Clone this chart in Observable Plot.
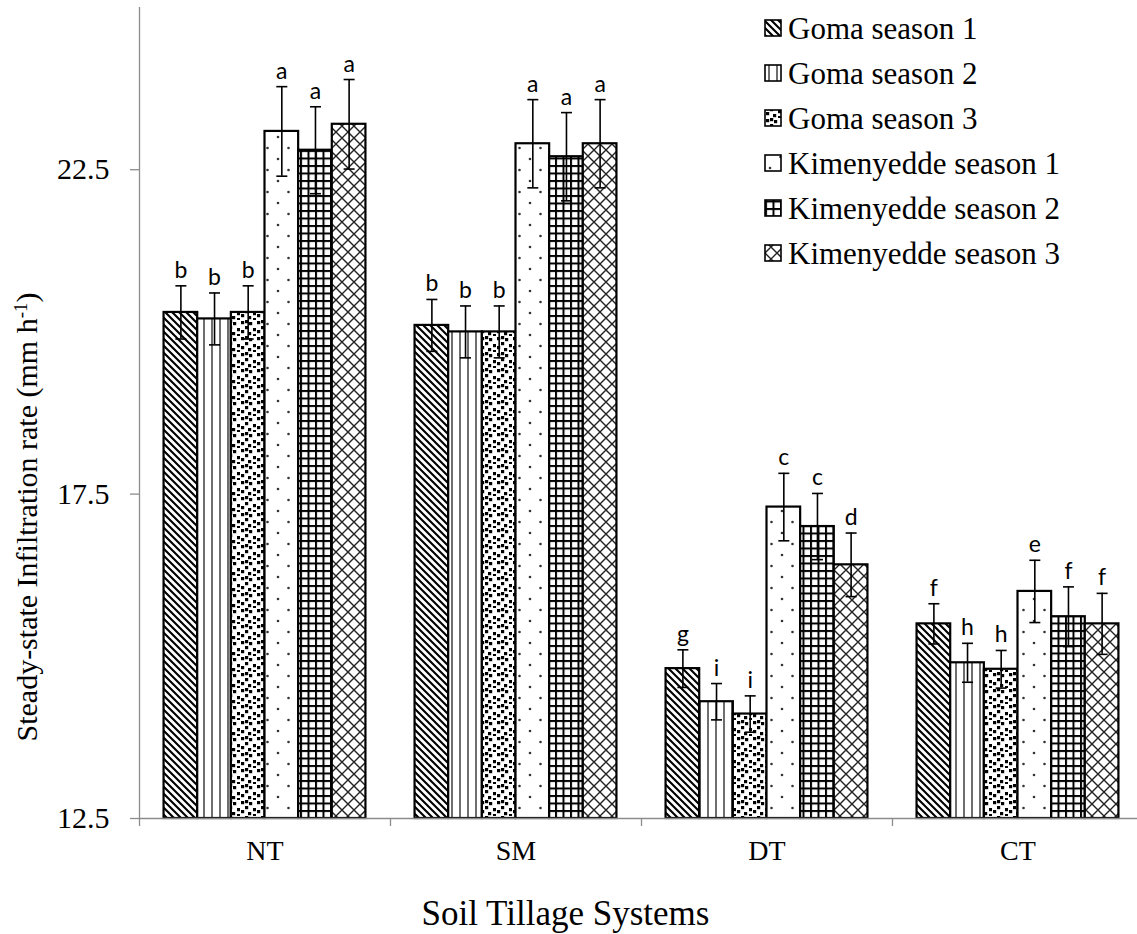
<!DOCTYPE html>
<html>
<head>
<meta charset="utf-8">
<script src="https://cdn.jsdelivr.net/npm/d3@7"></script>
<script src="https://cdn.jsdelivr.net/npm/@observablehq/plot@0.6"></script>
<style>
  body { margin: 0; background: #fff; }
  svg { display: block; }
</style>
</head>
<body>
<div id="chart"></div>
<script>
// Tillage systems along the x axis
const systems = ["NT", "SM", "DT", "CT"];

// Site × season series
const series = [
  "Goma season 1", "Goma season 2", "Goma season 3",
  "Kimenyedde season 1", "Kimenyedde season 2", "Kimenyedde season 3"
];

// Mean steady-state infiltration rate (mm h-1), one value per tillage system
const gomaS1 = [20.30, 20.10, 14.81, 15.50];
const gomaS2 = [20.20, 20.00, 14.30, 14.90];
const gomaS3 = [20.30, 20.00, 14.11, 14.80];
const kimS1  = [23.09, 22.90, 17.30, 16.00];
const kimS2  = [22.80, 22.70, 17.00, 15.61];
const kimS3  = [23.20, 22.90, 16.41, 15.50];

// Standard errors
const gomaS1Err = [0.41, 0.40, 0.29, 0.31];
const gomaS2Err = [0.40, 0.40, 0.28, 0.30];
const gomaS3Err = [0.41, 0.40, 0.28, 0.29];
const kimS1Err  = [0.69, 0.68, 0.52, 0.48];
const kimS2Err  = [0.67, 0.68, 0.51, 0.46];
const kimS3Err  = [0.69, 0.68, 0.49, 0.47];

// Mean separation letters
const gomaS1Sig = ["b", "b", "g", "f"];
const gomaS2Sig = ["b", "b", "i", "h"];
const gomaS3Sig = ["b", "b", "i", "h"];
const kimS1Sig  = ["a", "a", "c", "e"];
const kimS2Sig  = ["a", "a", "c", "f"];
const kimS3Sig  = ["a", "a", "d", "f"];

// Y axis
const yTicks = [12.5, 17.5, 22.5];
const yDomain = [12.5, 25];

const values  = [gomaS1, gomaS2, gomaS3, kimS1, kimS2, kimS3];
const errors  = [gomaS1Err, gomaS2Err, gomaS3Err, kimS1Err, kimS2Err, kimS3Err];
const letters = [gomaS1Sig, gomaS2Sig, gomaS3Sig, kimS1Sig, kimS2Sig, kimS3Sig];

// Position of each series bar inside a tillage-system slot (slot = 1 unit of x)
const slot = d3.scaleBand().domain(series).range([0, 1]).paddingInner(0).paddingOuter(0.73);

const rows = [];
systems.forEach((sys, i) => {
  series.forEach((s, j) => {
    const x1 = i + slot(s);
    const x2 = x1 + slot.bandwidth();
    rows.push({
      system: sys, series: s,
      value: values[j][i], err: errors[j][i], letter: letters[j][i],
      x1, x2, xc: (x1 + x2) / 2
    });
  });
});

// Horizontal cap for the error bars
const capSymbol = {
  draw(context, size) {
    const r = Math.sqrt(size / Math.PI);
    context.moveTo(-r, 0);
    context.lineTo(r, 0);
  }
};

const axisGray = "#8c8c8c";
const serif = "'Liberation Serif', 'Times New Roman', serif";

const chart = Plot.plot({
  width: 1137,
  height: 934,
  marginLeft: 139,
  marginRight: -6,
  marginTop: 7,
  marginBottom: 116,
  x: { domain: [0, systems.length], axis: null },
  y: { domain: yDomain, axis: null },
  color: { domain: series, range: series.map((_, j) => `url(#fill-${j})`) },
  style: { fontFamily: serif, background: "#fff", color: "#000", overflow: "visible" },
  marks: [
    Plot.rectY(rows, {
      x1: "x1", x2: "x2", y1: yDomain[0], y2: "value",
      fill: "series", stroke: "#000", strokeWidth: 2.2
    }),
    Plot.ruleX(rows, {
      x: "xc", y1: d => d.value - d.err, y2: d => d.value + d.err,
      stroke: "#000", strokeWidth: 1.6
    }),
    Plot.dot(rows, {
      x: "xc", y: d => d.value - d.err, symbol: capSymbol, r: 5.5,
      fill: "none", stroke: "#000", strokeWidth: 1.6
    }),
    Plot.dot(rows, {
      x: "xc", y: d => d.value + d.err, symbol: capSymbol, r: 5.5,
      fill: "none", stroke: "#000", strokeWidth: 1.6
    }),
    Plot.text(rows, {
      x: "xc", y: d => d.value + d.err, text: "letter",
      lineAnchor: "bottom", dy: -8,
      fontFamily: "Lato, 'Open Sans', sans-serif", fontSize: 23, fill: "#000"
    }),
    // axis lines
    Plot.ruleY([yDomain[0]], { stroke: axisGray, strokeWidth: 1.3 }),
    Plot.ruleX([0], { y1: yDomain[0], y2: yDomain[1], stroke: axisGray, strokeWidth: 1.3 }),
    Plot.axisY({
      ticks: yTicks, tickSize: 9, tickPadding: 21, tickFormat: d3.format(".1f"),
      fontSize: 30, stroke: axisGray, strokeWidth: 1.3, label: null
    }),
    // slot boundary ticks
    Plot.axisX({
      ticks: d3.range(0, systems.length + 1), tickSize: 8, tickFormat: () => "",
      stroke: axisGray, strokeWidth: 1.3, label: null
    }),
    // system names centred in each slot
    Plot.axisX({
      ticks: systems.map((_, i) => i + 0.5), tickSize: 0, tickPadding: 22,
      tickFormat: d => systems[Math.floor(d)], fontSize: 28, label: null
    }),
    // x axis title
    Plot.text(["Soil Tillage Systems"], {
      frameAnchor: "bottom", lineAnchor: "middle", dx: -76, dy: 95, fontSize: 35, fill: "#000"
    })
  ]
});

document.getElementById("chart").append(chart);

const svg = d3.select(chart);

// Hatch patterns for the six series
const defs = svg.insert("defs", ":first-child");
function pattern(id, w, h) {
  const p = defs.append("pattern").attr("id", id)
    .attr("patternUnits", "userSpaceOnUse").attr("width", w).attr("height", h);
  p.append("rect").attr("width", w).attr("height", h).attr("fill", "#fff");
  return p;
}
// Goma season 1: downward diagonal stripes
pattern("fill-0", 7, 7).append("path")
  .attr("d", "M-2,-2L9,9M-2,5L2,9M5,-2L9,2")
  .attr("stroke", "#000").attr("stroke-width", 2.1);
// Goma season 2: vertical stripes
pattern("fill-1", 8, 8).append("rect")
  .attr("x", 3).attr("width", 2).attr("height", 8).attr("fill", "#6e6e6e");
// Goma season 3: confetti squares
{
  const p = pattern("fill-2", 16, 16);
  [[1, 1], [9, 2], [5, 6], [13, 8], [1, 10], [8, 12], [13, 14], [5, 0]].forEach(([x, y]) =>
    p.append("rect").attr("x", x).attr("y", y).attr("width", 3.2).attr("height", 3.2).attr("fill", "#000"));
}
// Kimenyedde season 1: sparse dots
{
  const p = pattern("fill-3", 21, 22);
  p.append("circle").attr("cx", 5).attr("cy", 5).attr("r", 1.3).attr("fill", "#333");
  p.append("circle").attr("cx", 15.5).attr("cy", 16).attr("r", 1.3).attr("fill", "#333");
}
// Kimenyedde season 2: heavy grid
{
  const p = pattern("fill-4", 7.5, 7.5);
  p.append("rect").attr("width", 7.5).attr("height", 2).attr("fill", "#000");
  p.append("rect").attr("width", 2).attr("height", 7.5).attr("fill", "#000");
}
// Kimenyedde season 3: diagonal crosshatch
pattern("fill-5", 12, 12).append("path")
  .attr("d", "M0,0L12,12M12,0L0,12")
  .attr("stroke", "#222").attr("stroke-width", 1.4);

// Y axis title with superscript
const yTitle = svg.append("text")
  .attr("transform", "translate(37,517) rotate(-90)")
  .attr("text-anchor", "middle")
  .attr("font-family", serif)
  .attr("font-size", 30)
  .attr("fill", "#000");
yTitle.append("tspan").text("Steady-state Infiltration rate (mm h");
yTitle.append("tspan").attr("font-size", 19).attr("baseline-shift", "super").text("-1");
yTitle.append("tspan").text(")");

// Legend
const legend = svg.append("g").attr("transform", "translate(765,0)");
series.forEach((s, j) => {
  const g = legend.append("g").attr("transform", `translate(0,${28 + j * 45})`);
  g.append("rect").attr("x", 0).attr("y", -8).attr("width", 16).attr("height", 16)
    .attr("fill", `url(#fill-${j})`).attr("stroke", "#000").attr("stroke-width", 1.6);
  g.append("text").attr("x", 23).attr("dy", "0.35em").attr("text-anchor", "start")
    .attr("font-family", serif).attr("font-size", 31).attr("fill", "#000").text(s);
});
</script>
</body>
</html>
